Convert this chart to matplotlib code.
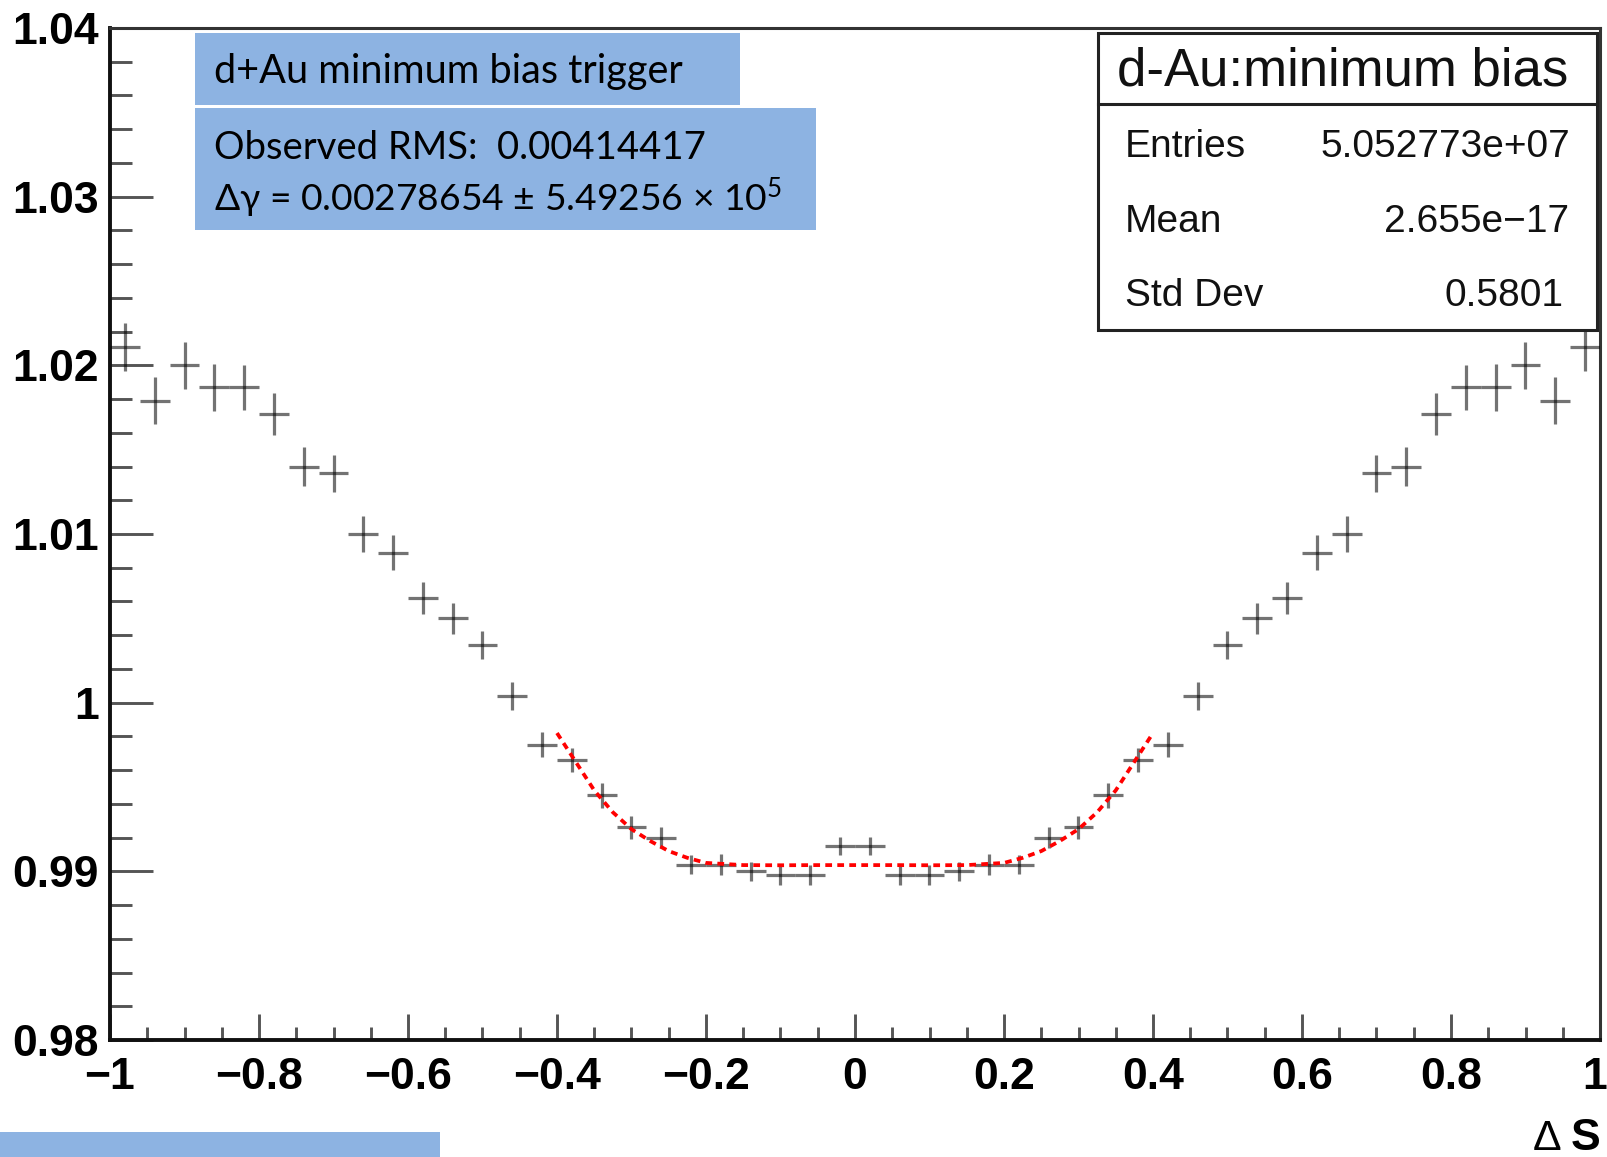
import matplotlib
matplotlib.use("Agg")
import matplotlib.pyplot as plt
from matplotlib.patches import Rectangle
from matplotlib.lines import Line2D
from matplotlib.ticker import MultipleLocator
from matplotlib.transforms import ScaledTranslation

plt.rcParams['mathtext.fontset'] = 'custom'
plt.rcParams['mathtext.rm'] = 'Lato'
plt.rcParams['mathtext.it'] = 'Lato'

# ---------------------------------------------------------------- data
bin_centers = [-0.98, -0.94, -0.90, -0.86, -0.82, -0.78, -0.74, -0.70, -0.66, -0.62,
               -0.58, -0.54, -0.50, -0.46, -0.42, -0.38, -0.34, -0.30, -0.26, -0.22,
               -0.18, -0.14, -0.10, -0.06, -0.02, 0.02, 0.06, 0.10, 0.14, 0.18,
               0.22, 0.26, 0.30, 0.34, 0.38, 0.42, 0.46, 0.50, 0.54, 0.58,
               0.62, 0.66, 0.70, 0.74, 0.78, 0.82, 0.86, 0.90, 0.94, 0.98]
bin_half_width = 0.02

ratio = [1.0211, 1.0179, 1.0200, 1.0187, 1.0187, 1.0171, 1.0140, 1.0136, 1.0100, 1.0089,
         1.0062, 1.0050, 1.0034, 1.0004, 0.9975, 0.9966, 0.9945, 0.9926, 0.9920, 0.9904,
         0.9904, 0.9900, 0.9898, 0.9898, 0.9915, 0.9915, 0.9898, 0.9898, 0.9900, 0.9904,
         0.9904, 0.9920, 0.9926, 0.9945, 0.9966, 0.9975, 1.0004, 1.0034, 1.0050, 1.0062,
         1.0089, 1.0100, 1.0136, 1.0140, 1.0171, 1.0187, 1.0187, 1.0200, 1.0179, 1.0211]

ratio_err = [0.00143, 0.00138, 0.00140, 0.00139, 0.00134, 0.00125, 0.00118, 0.00110, 0.00104, 0.00102,
             0.00093, 0.00092, 0.00084, 0.00085, 0.00074, 0.00074, 0.00074, 0.00071, 0.00062, 0.00056,
             0.00062, 0.00056, 0.00060, 0.00060, 0.00053, 0.00053, 0.00060, 0.00060, 0.00056, 0.00062,
             0.00056, 0.00062, 0.00071, 0.00074, 0.00074, 0.00074, 0.00085, 0.00084, 0.00092, 0.00093,
             0.00102, 0.00104, 0.00110, 0.00118, 0.00125, 0.00134, 0.00139, 0.00140, 0.00138, 0.00143]

fit_x = [-0.40, -0.375, -0.35, -0.325, -0.30, -0.275, -0.25, -0.225, -0.20, -0.15, -0.10, -0.05,
         0.0, 0.05, 0.10, 0.15, 0.20, 0.225, 0.25, 0.275, 0.30, 0.325, 0.35, 0.375, 0.40]
fit_y = [0.9982, 0.9965, 0.9948, 0.9935, 0.9925, 0.9918, 0.9912, 0.9908, 0.9905, 0.99037, 0.99036, 0.99037,
         0.99037, 0.99037, 0.99036, 0.99037, 0.9905, 0.9908, 0.9912, 0.9918, 0.9925, 0.9935, 0.9948, 0.9965, 0.9982]

x_ticks = [-1.0, -0.8, -0.6, -0.4, -0.2, 0.0, 0.2, 0.4, 0.6, 0.8, 1.0]
x_tick_labels = ['\u22121', '\u22120.8', '\u22120.6', '\u22120.4', '\u22120.2', '0',
                 '0.2', '0.4', '0.6', '0.8', '1']
y_ticks = [0.98, 0.99, 1.00, 1.01, 1.02, 1.03, 1.04]
y_tick_labels = ['0.98', '0.99', '1', '1.01', '1.02', '1.03', '1.04']

stats_title = 'd-Au:minimum bias'
stats_names = ['Entries', 'Mean', 'Std Dev']
stats_values = ['5.052773e+07', '2.655e\u221217', '0.5801']

note_trigger = 'd+Au minimum bias trigger'
note_rms = 'Observed RMS:  0.00414417'
note_dgamma = '\u0394\u03b3 = 0.00278654 \u00b1 5.49256 \u00d7 10$^{5}$'

# ---------------------------------------------------------------- figure
W, H = 1608, 1157
fig = plt.figure(figsize=(W / 100, H / 100), dpi=100)


def fx(px):
    return px / W


def fy(py):
    return 1 - py / H


ax_left, ax_right, ax_top, ax_bottom = 110, 1600, 28, 1040
ax = fig.add_axes([fx(ax_left), fy(ax_bottom), fx(ax_right - ax_left), (ax_bottom - ax_top) / H])

ax.errorbar(bin_centers, ratio, xerr=bin_half_width, yerr=ratio_err, fmt='none',
            ecolor='black', elinewidth=2.3, alpha=0.55, capsize=0, zorder=3)
ax.plot(fit_x, fit_y, color='#ff0000', lw=2.7, linestyle=(0, (1.8, 1.4)),
        dash_capstyle='butt', zorder=4)

ax.set_xlim(-1, 1)
ax.set_ylim(0.98, 1.04)

tick_font = dict(fontsize=32, fontweight='bold', family=['Liberation Sans', 'DejaVu Sans'])
ax.set_xticks(x_ticks, labels=x_tick_labels, **tick_font)
ax.set_yticks(y_ticks, labels=y_tick_labels, **tick_font)
ax.xaxis.set_minor_locator(MultipleLocator(0.05))
ax.yaxis.set_minor_locator(MultipleLocator(0.002))

ax.tick_params(axis='x', which='major', direction='in', length=19, width=2.1,
               color='#555555', pad=12, top=False)
ax.tick_params(axis='x', which='minor', direction='in', length=9.7, width=2.1,
               color='#555555', top=False)
ax.tick_params(axis='y', which='major', direction='in', length=31, width=2.1,
               color='#555555', pad=8, right=False)
ax.tick_params(axis='y', which='minor', direction='in', length=15.8, width=2.1,
               color='#555555', right=False)

# keep the last x label inside the canvas
last_label = ax.get_xticklabels()[-1]
last_label.set_transform(last_label.get_transform() +
                         ScaledTranslation(-5 / 100, 0, fig.dpi_scale_trans))

for side in ['left', 'bottom']:
    ax.spines[side].set_linewidth(2.8)
    ax.spines[side].set_color('#111111')
for side in ['top', 'right']:
    ax.spines[side].set_linewidth(2.2)
    ax.spines[side].set_color('#333333')

# axis title
fig.text(fx(1561), fy(1150), '\u0394', fontsize=31, family='Liberation Sans',
         ha='right', va='baseline', color='black')
fig.text(fx(1600), fy(1150), 'S', fontsize=32, fontweight='bold', family='Liberation Sans',
         ha='right', va='baseline', color='black')

# ---------------------------------------------------------------- statistics box
sb_x0, sb_x1, sb_y0, sb_y1, sb_sep = 1098, 1597, 33, 330, 104
fig.add_artist(Rectangle((fx(sb_x0), fy(sb_y1)), fx(sb_x1 - sb_x0), (sb_y1 - sb_y0) / H,
                         transform=fig.transFigure, facecolor='white',
                         edgecolor='#222222', lw=2.2, zorder=5))
fig.add_artist(Line2D([fx(sb_x0), fx(sb_x1)], [fy(sb_sep), fy(sb_sep)],
                      transform=fig.transFigure, color='#222222', lw=2.2, zorder=6))
fig.text(fx(1343), fy(86), stats_title, fontsize=38,
         family='Liberation Sans', ha='center', va='baseline', color='#111111', zorder=7)
row_baselines = [157, 232, 306]
value_right = [1570, 1569, 1564]
for name, val, yb, xr in zip(stats_names, stats_values, row_baselines, value_right):
    fig.text(fx(1125), fy(yb), name, fontsize=28, family='Liberation Sans',
             ha='left', va='baseline', color='#111111', zorder=7)
    fig.text(fx(xr), fy(yb), val, fontsize=28, family='Liberation Sans',
             ha='right', va='baseline', color='#111111', zorder=7)

# ---------------------------------------------------------------- annotation boxes
box_blue = '#8DB3E2'
note_font = dict(family=['Lato', 'DejaVu Sans'], color='black', zorder=9)
fig.add_artist(Rectangle((fx(195), fy(105)), fx(740 - 195), (105 - 33) / H,
                         transform=fig.transFigure, facecolor=box_blue,
                         edgecolor='none', zorder=8))
fig.add_artist(Rectangle((fx(195), fy(230)), fx(816 - 195), (230 - 108) / H,
                         transform=fig.transFigure, facecolor=box_blue,
                         edgecolor='none', zorder=8))
fig.add_artist(Rectangle((fx(0), fy(H)), fx(440), (H - 1132) / H,
                         transform=fig.transFigure, facecolor=box_blue,
                         edgecolor='none', zorder=8))
fig.text(fx(214), fy(83), note_trigger, ha='left', va='baseline', fontsize=28.5, **note_font)
fig.text(fx(214), fy(159), note_rms, ha='left', va='baseline', fontsize=27.5, **note_font)
fig.text(fx(214), fy(211), note_dgamma, ha='left', va='baseline', fontsize=26.8, **note_font)

fig.savefig('out.png', dpi=100, facecolor='white')
